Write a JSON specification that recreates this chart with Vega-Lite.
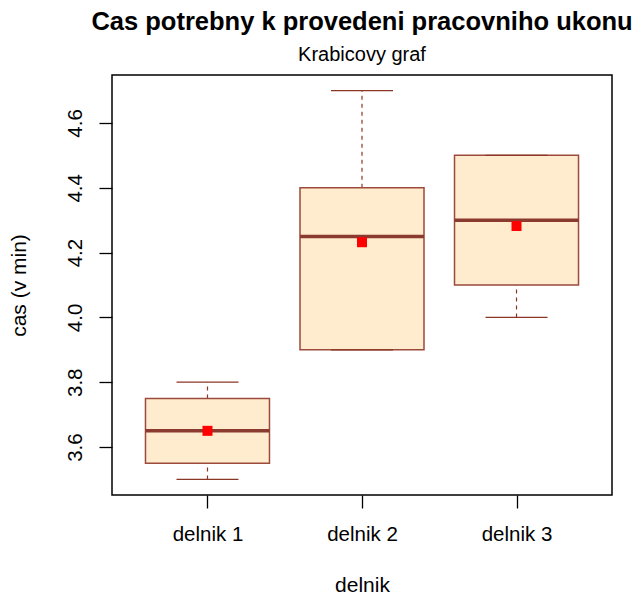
{
  "$schema": "https://vega.github.io/schema/vega-lite/v6.json",
  "autosize": {"type": "none"},
  "width": 500,
  "height": 420,
  "padding": {"left": 112, "top": 75, "right": 25, "bottom": 102},
  "background": "white",
  "title": {
    "text": "Cas potrebny k provedeni pracovniho ukonu",
    "subtitle": "Krabicovy graf",
    "anchor": "middle",
    "font": "Liberation Sans",
    "fontSize": 25.5,
    "fontWeight": "bold",
    "color": "black",
    "subtitleFont": "Liberation Sans",
    "subtitleFontSize": 20,
    "subtitleColor": "black",
    "subtitlePadding": 10,
    "offset": 10
  },
  "data": {
    "values": [
      {"delnik": "delnik 1", "min": 3.5, "q1": 3.55, "median": 3.65, "q3": 3.75, "max": 3.8, "mean": 3.65},
      {"delnik": "delnik 2", "min": 3.9, "q1": 3.9, "median": 4.25, "q3": 4.4, "max": 4.7, "mean": 4.232},
      {"delnik": "delnik 3", "min": 4.0, "q1": 4.1, "median": 4.3, "q3": 4.5, "max": 4.5, "mean": 4.282}
    ]
  },
  "encoding": {
    "x": {
      "field": "delnik",
      "type": "nominal",
      "scale": {"type": "point", "padding": 0.618},
      "axis": {"title": "delnik", "labelAngle": 0, "labelPadding": 16, "titlePadding": 30}
    }
  },
  "layer": [
    {
      "mark": {"type": "rule", "color": "#8B3626", "strokeWidth": 1.2, "strokeDash": [4, 4]},
      "encoding": {
        "y": {"field": "min", "type": "quantitative", "scale": {"domain": [3.452, 4.748], "nice": false, "zero": false},
          "axis": {"title": "cas (v min)", "values": [3.6, 3.8, 4.0, 4.2, 4.4, 4.6], "format": ".1f", "labelAngle": -90, "labelPadding": 14, "titlePadding": 36}},
        "y2": {"field": "q1"}
      }
    },
    {
      "mark": {"type": "rule", "color": "#8B3626", "strokeWidth": 1.2, "strokeDash": [4, 4]},
      "encoding": {
        "y": {"field": "q3", "type": "quantitative"},
        "y2": {"field": "max"}
      }
    },
    {
      "mark": {"type": "bar", "size": 124, "fill": "#FFEBCD", "stroke": "#9C4A3C", "strokeWidth": 1.5},
      "encoding": {
        "y": {"field": "q1", "type": "quantitative"},
        "y2": {"field": "q3"}
      }
    },
    {
      "mark": {"type": "tick", "size": 124, "thickness": 3.5, "color": "#8B3A2F", "opacity": 1},
      "encoding": {"y": {"field": "median", "type": "quantitative"}}
    },
    {
      "mark": {"type": "tick", "size": 62, "thickness": 1.3, "color": "#8B3626", "opacity": 1},
      "encoding": {"y": {"field": "min", "type": "quantitative"}}
    },
    {
      "mark": {"type": "tick", "size": 62, "thickness": 1.3, "color": "#8B3626", "opacity": 1},
      "encoding": {"y": {"field": "max", "type": "quantitative"}}
    },
    {
      "mark": {"type": "point", "shape": "square", "filled": true, "size": 100, "color": "#FF0000", "opacity": 1},
      "encoding": {"y": {"field": "mean", "type": "quantitative"}}
    }
  ],
  "config": {
    "view": {"stroke": "black", "strokeWidth": 1.5},
    "axis": {
      "domain": false,
      "grid": false,
      "tickColor": "black",
      "tickSize": 13,
      "tickWidth": 1.3,
      "labelFont": "Liberation Sans",
      "labelFontSize": 20.5,
      "labelColor": "black",
      "titleFont": "Liberation Sans",
      "titleFontSize": 21,
      "titleFontWeight": "normal",
      "titleColor": "black"
    }
  }
}
